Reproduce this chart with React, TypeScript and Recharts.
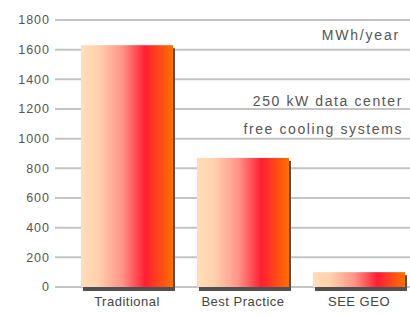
import { BarChart, Bar, XAxis, YAxis, CartesianGrid } from "recharts";

const categories = ["Traditional", "Best Practice", "SEE GEO"];
const energyMWh = [1630, 870, 100];
const yTicks = [0, 200, 400, 600, 800, 1000, 1200, 1400, 1600, 1800];

const data = categories.map((name, i) => ({ name, mwh: energyMWh[i] }));

const textFont = "'Liberation Sans', Arial, sans-serif";

// Balken mit Schlagschatten (unten/rechts) und horizontalem Verlauf
function ShadowBar(props: any) {
  const { x, y, width, height } = props;
  if (!height || height <= 0) return null;
  return (
    <g>
      <rect x={x + 2} y={y + 3} width={width} height={height + 1} fill="#505050" />
      <rect x={x} y={y} width={width} height={height} fill="url(#bar-grad)" />
    </g>
  );
}

export default function App() {
  return (
    <div
      style={{
        position: "absolute",
        left: 0,
        top: 0,
        width: 410,
        height: 317,
        background: "#ffffff",
        overflow: "hidden",
        fontFamily: textFont,
      }}
    >
      <BarChart
        width={410}
        height={317}
        data={data}
        margin={{ top: 20, right: 0, left: 0, bottom: 0 }}
        barSize={92}
      >
        <defs>
          <linearGradient id="bar-grad" x1="0" y1="0" x2="1" y2="0">
            <stop offset="0%" stopColor="#FFDDB8" />
            <stop offset="18%" stopColor="#FFD3AE" />
            <stop offset="45%" stopColor="#FF9488" />
            <stop offset="70%" stopColor="#FF1E32" />
            <stop offset="86%" stopColor="#FF4A18" />
            <stop offset="100%" stopColor="#FF7000" />
          </linearGradient>
        </defs>
        <CartesianGrid vertical={false} stroke="#c4c4c4" strokeWidth={2} />
        <XAxis
          dataKey="name"
          axisLine={false}
          tickLine={false}
          tickSize={8}
          tickMargin={2}
          height={30}
          padding={{ left: 14, right: -7 }}
          tick={{ fill: "#444", fontSize: 13, fontFamily: textFont, letterSpacing: 0.5 }}
        />
        <YAxis
          domain={[0, 1800]}
          ticks={yTicks}
          interval={0}
          axisLine={false}
          tickLine={false}
          tickSize={3}
          tickMargin={2}
          width={55}
          tick={{ fill: "#555", fontSize: 12.5, fontFamily: textFont, letterSpacing: 1 }}
        />
        <Bar dataKey="mwh" shape={<ShadowBar />} isAnimationActive={false} />
      </BarChart>
      <div style={{ position: "absolute", right: 10, top: 27, fontSize: 14, color: "#555", letterSpacing: 1.8 }}>
        MWh/year
      </div>
      <div
        style={{
          position: "absolute",
          right: 7,
          top: 87,
          fontSize: 14,
          lineHeight: "28px",
          color: "#555",
          letterSpacing: 1.6,
          textAlign: "right",
        }}
      >
        250 kW data center
        <br />
        free cooling systems
      </div>
    </div>
  );
}
